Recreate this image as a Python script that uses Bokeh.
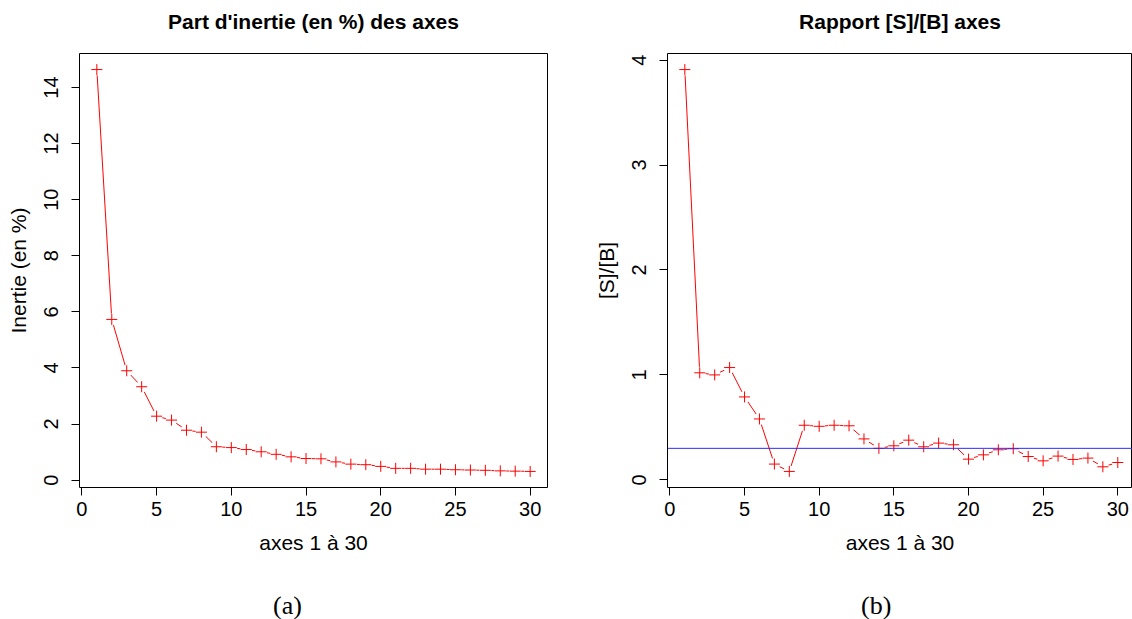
from bokeh.plotting import figure
from bokeh.models import Range1d, FixedTicker, Span, LinearAxis, Div
from bokeh.layouts import row, column
from bokeh.embed import file_html
from bokeh.resources import INLINE

# ---- data ----
axes_idx = list(range(1, 31))
inertie = [14.64, 5.73, 3.90, 3.33, 2.28, 2.14, 1.78, 1.71, 1.19, 1.16,
           1.09, 1.01, 0.92, 0.83, 0.77, 0.76, 0.65, 0.57, 0.55, 0.49,
           0.42, 0.42, 0.39, 0.39, 0.37, 0.36, 0.35, 0.33, 0.32, 0.31]
rapport = [3.91, 1.02, 1.00, 1.07, 0.79, 0.58, 0.15, 0.08, 0.52, 0.51,
           0.52, 0.515, 0.39, 0.30, 0.324, 0.378, 0.315, 0.35, 0.334, 0.197,
           0.238, 0.286, 0.296, 0.222, 0.181, 0.226, 0.194, 0.207, 0.124, 0.165]
seuil = 0.30
x_ticks = [0, 5, 10, 15, 20, 25, 30]
y1_ticks = [0, 2, 4, 6, 8, 10, 12, 14]
y2_ticks = [0, 1, 2, 3, 4]

FONT = "Liberation Sans"
PLOT_H = 593
CAP_H = 619 - PLOT_H


def r_range(vals):
    lo, hi = min(vals), max(vals)
    d = 0.04 * (hi - lo)
    return lo - d, hi + d


def text_axis(label, font, size, style, standoff):
    ax = LinearAxis(ticker=FixedTicker(ticks=[]), axis_label=label)
    ax.axis_line_color = None
    ax.major_tick_line_color = None
    ax.minor_tick_line_color = None
    ax.major_tick_out = 0
    ax.major_tick_in = 0
    ax.major_label_standoff = 0
    ax.major_label_text_font_size = "0px"
    ax.axis_label_text_font = font
    ax.axis_label_text_font_size = size
    ax.axis_label_text_font_style = style
    ax.axis_label_text_color = "black"
    ax.axis_label_standoff = standoff
    return ax


def panel(y, title, ylab, yticks, width, left, right, xfrac=1.0):
    xlo, xhi = r_range(axes_idx)
    xhi = xlo + (xhi - xlo) * xfrac
    ylo, yhi = r_range(y)
    p = figure(width=width, height=PLOT_H,
               x_range=Range1d(xlo, xhi), y_range=Range1d(ylo, yhi),
               output_backend="svg", toolbar_location=None,
               min_border_left=left, min_border_right=right,
               min_border_top=53, min_border_bottom=PLOT_H - 53 - 434)
    p.grid.visible = False
    p.background_fill_color = "white"
    p.border_fill_color = "white"
    p.outline_line_color = "black"
    p.outline_line_width = 1
    p.outline_line_alpha = 1

    xa = p.xaxis[0]
    xa.ticker = FixedTicker(ticks=x_ticks)
    xa.bounds = (x_ticks[0], x_ticks[-1])
    xa.axis_label = "axes 1 à 30"
    ya = p.yaxis[0]
    ya.ticker = FixedTicker(ticks=yticks)
    ya.bounds = (yticks[0], yticks[-1])
    ya.axis_label = ylab
    ya.major_label_orientation = "vertical"
    for ax in (xa, ya):
        ax.minor_tick_line_color = None
        ax.major_tick_in = 0
        ax.major_tick_out = 8
        ax.major_tick_line_color = "black"
        ax.axis_line_color = "black"
        ax.major_label_text_font = FONT
        ax.major_label_text_font_size = "20px"
        ax.major_label_text_color = "black"
        ax.axis_label_text_font = FONT
        ax.axis_label_text_font_size = "21px"
        ax.axis_label_text_font_style = "normal"
        ax.axis_label_text_color = "black"
    xa.major_label_standoff = 6
    xa.axis_label_standoff = 12
    ya.major_label_standoff = 13
    ya.axis_label_standoff = 12

    # title as a label-only axis above the frame
    p.add_layout(text_axis(title, FONT, "21px", "bold", 21), "above")

    p.line(axes_idx, y, line_color="red", line_width=1)
    p.scatter(axes_idx, y, marker="circle", size=12, fill_color="white", line_color=None)
    p.scatter(axes_idx, y, marker="cross", size=11, line_color="red", line_width=1)
    return p


def caption(text, left_px, width):
    html = ('<div style="margin-left:%dpx; font-family:\'Liberation Serif\'; '
            'font-size:26px; line-height:%dpx; color:black; white-space:nowrap;">%s</div>'
            % (left_px, CAP_H, text))
    return Div(text=html, width=width, height=CAP_H, margin=0)


p1 = panel(inertie, "Part d'inertie (en %) des axes", "Inertie (en %)", y1_ticks,
           566, 79, 19)
p2 = panel(rapport, "Rapport [S]/[B] axes", "[S]/[B]", y2_ticks,
           566, 101, 0, xfrac=465 / 467.6)
p2.add_layout(Span(location=seuil, dimension="width", line_color="#2a2aff", line_width=1))

layout = column(row(p1, p2), row(caption("(a)", 273, 566), caption("(b)", 295, 566)))
open("out.html", "w").write(file_html(layout, INLINE))
